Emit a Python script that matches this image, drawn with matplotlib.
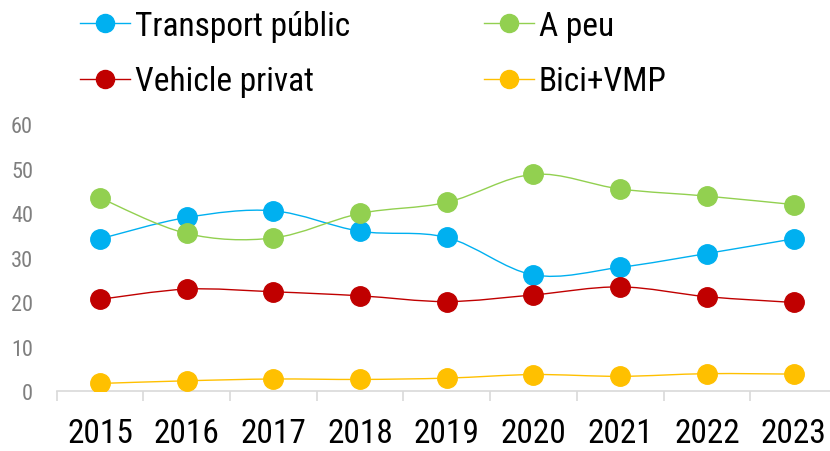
import matplotlib
matplotlib.use("Agg")
import matplotlib.pyplot as plt
import numpy as np
from matplotlib.path import Path
from matplotlib.patches import PathPatch

# data
years = ['2015', '2016', '2017', '2018', '2019', '2020', '2021', '2022', '2023']
transport_public = [34.2, 39.0, 40.5, 35.9, 34.5, 26.1, 27.8, 30.9, 34.2]
a_peu = [43.4, 35.4, 34.4, 39.9, 42.4, 48.7, 45.4, 43.8, 41.9]
vehicle_privat = [20.6, 22.9, 22.3, 21.4, 20.1, 21.6, 23.4, 21.2, 19.9]
bici_vmp = [1.7, 2.3, 2.7, 2.6, 2.9, 3.7, 3.3, 3.9, 3.8]

series = [
    ('Transport públic', transport_public, '#00B0F0'),
    ('A peu', a_peu, '#92D050'),
    ('Vehicle privat', vehicle_privat, '#C00000'),
    ('Bici+VMP', bici_vmp, '#FFC000'),
]

plt.rcParams['font.family'] = ['Roboto Condensed', 'DejaVu Sans']


def smooth_path(x, y):
    # excel style smoothed line: cubic bezier between neighbouring points
    pts = np.column_stack([x, y]).astype(float)
    ext = np.vstack([pts[0], pts, pts[-1]])
    verts = [pts[0]]
    codes = [Path.MOVETO]
    for i in range(len(pts) - 1):
        p0, p1, p2, p3 = ext[i], ext[i + 1], ext[i + 2], ext[i + 3]
        c1 = p1 + (p2 - p0) / 6
        c2 = p2 - (p3 - p1) / 6
        verts += [c1, c2, p2]
        codes += [Path.CURVE4] * 3
    return Path(verts, codes)


fig = plt.figure(figsize=(8.3, 4.52), dpi=100)
ax = fig.add_axes([0.0683, 0.1327, 0.940, 0.5907])

x = np.arange(len(years))
handles = []
for label, vals, color in series:
    ax.add_patch(PathPatch(smooth_path(x, vals), facecolor='none',
                           edgecolor=color, lw=1.0, zorder=2))
    ax.plot(x, vals, linestyle='none', marker='o', markersize=14,
            color=color, zorder=3)
    handles.append(ax.plot([], [], color=color, lw=1.0, marker='o',
                           markersize=13, label=label)[0])

ax.set_xlim(-0.5, len(years) - 0.5)
ax.set_ylim(0, 60)
ax.set_yticks(range(0, 61, 10))
ax.set_xticks(x)
ax.set_xticklabels(years)
ax.set_xticks(np.arange(-0.5, len(years)), minor=True)

for s in ['top', 'right', 'left']:
    ax.spines[s].set_visible(False)
ax.spines['bottom'].set_color('#d9d9d9')
ax.spines['bottom'].set_linewidth(1.2)

ax.tick_params(axis='y', length=0, pad=17, labelsize=16, labelcolor='#7f7f7f')
ax.tick_params(axis='x', which='major', length=0, pad=19, labelsize=24,
               labelcolor='black')
ax.tick_params(axis='x', which='minor', length=7.5, width=1.2, color='#d9d9d9')

order = [handles[0], handles[2], handles[1], handles[3]]
fig.legend(handles=order, labels=[h.get_label() for h in order],
           loc='upper left', bbox_to_anchor=(0.0964, 0.976), ncol=2,
           frameon=False, fontsize=24, handlelength=1.5, handletextpad=0.15,
           columnspacing=4.0, labelspacing=0.7, borderpad=0, borderaxespad=0)

fig.savefig('out.png', dpi=100)
